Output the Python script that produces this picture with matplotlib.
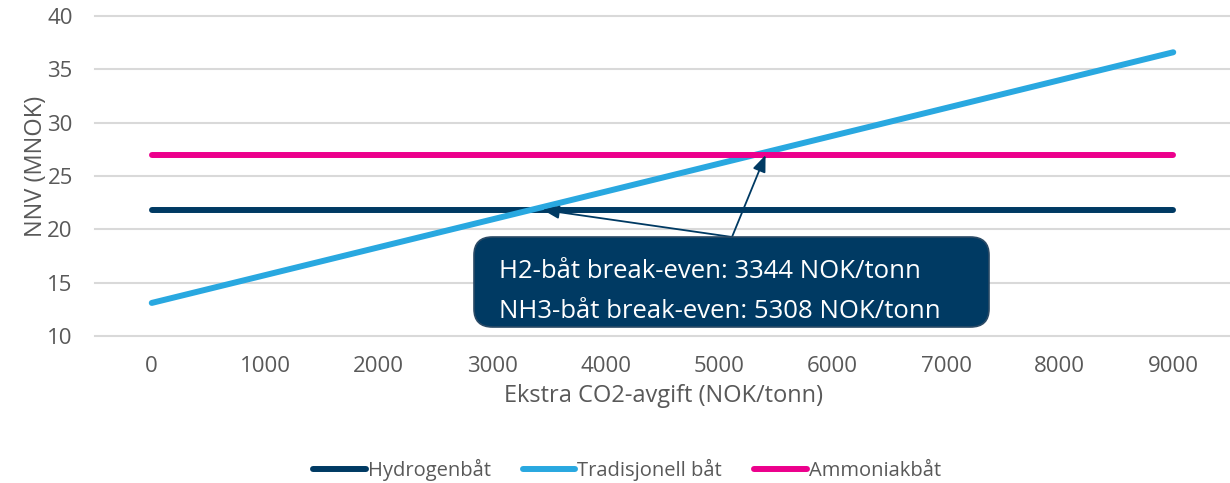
import matplotlib.pyplot as plt
from matplotlib.patches import FancyBboxPatch

# data
avgift = [0, 1000, 2000, 3000, 4000, 5000, 6000, 7000, 8000, 9000]
hydrogen = [21.83] * 10
tradisjonell = [13.1, 15.71, 18.32, 20.93, 23.54, 26.16, 28.77, 31.38, 33.99, 36.6]
ammoniak = [26.96] * 10
break_h2 = 3344
break_nh3 = 5308

NAVY = '#003A63'
BLUE = '#29A8E0'
PINK = '#EC008C'
GREY = '#595959'

plt.rcParams['font.family'] = ['Open Sans', 'DejaVu Sans']

fig = plt.figure(figsize=(12.3, 4.83), dpi=100)
ax = fig.add_axes([95 / 1230, 1 - 336 / 483, 1 - 95 / 1230, 320 / 483])

xs = list(range(len(avgift)))
ax.plot(xs, hydrogen, color=NAVY, lw=4.3, solid_capstyle='round', label='Hydrogenbåt')
ax.plot(xs, tradisjonell, color=BLUE, lw=4.3, solid_capstyle='round', label='Tradisjonell båt')
ax.plot(xs, ammoniak, color=PINK, lw=4.3, solid_capstyle='round', label='Ammoniakbåt')

ax.set_xlim(-0.5, len(avgift) - 0.5)
ax.set_ylim(10, 40)
ax.set_yticks(range(10, 41, 5))
ax.set_xticks(xs)
ax.set_xticklabels([str(v) for v in avgift])
ax.tick_params(length=0, labelsize=16, labelcolor=GREY)
ax.tick_params(axis='y', pad=16)
ax.tick_params(axis='x', pad=14.5)
ax.grid(axis='y', color='#D9D9D9', lw=1.5)
ax.set_axisbelow(True)
for s in ax.spines.values():
    s.set_visible(False)
for gl in ax.get_ygridlines():
    gl.set_clip_on(False)

# annotation box with arrows to the break-even points
tail = (732, 237)
def to_data(px, py):
    return ax.transData.inverted().transform(fig.transFigure.transform((px / 1230, 1 - py / 483)))

tail_xy = to_data(*tail)
for bx, by in [(break_h2, hydrogen[0]), (break_nh3, ammoniak[0])]:
    ax.annotate('', xy=(bx / 1000 + 0.1, by), xytext=tail_xy,
                arrowprops=dict(arrowstyle='-|>,head_length=1.0,head_width=0.4',
                                color=NAVY, lw=1.3, shrinkA=0, shrinkB=0))

box = FancyBboxPatch((474 / 1230, 1 - 327 / 483), (989 - 474) / 1230, 90 / 483,
                     boxstyle='round,pad=0,rounding_size=0.015', transform=fig.transFigure,
                     facecolor=NAVY, edgecolor='#2A4A66', lw=1.2, mutation_aspect=2.5)
fig.patches.append(box)
fig.text(499 / 1230, 1 - 278 / 483, f'H2-båt break-even: {break_h2} NOK/tonn',
         color='white', fontsize=18.5, va='baseline')
fig.text(499 / 1230, 1 - 318 / 483, f'NH3-båt break-even: {break_nh3} NOK/tonn',
         color='white', fontsize=18.5, va='baseline')

fig.text(664 / 1230, 1 - 402 / 483, 'Ekstra CO2-avgift (NOK/tonn)', ha='center', va='baseline',
         fontsize=17, color=GREY)
fig.text(36 / 1230, 1 - 166 / 483, 'NNV (MNOK)', ha='center', va='center', rotation=90,
         fontsize=17, color=GREY)

fig.legend(loc='center', bbox_to_anchor=(627 / 1230, 1 - 470 / 483), ncol=3, frameon=False,
           fontsize=14.5, labelcolor=GREY, handlelength=2.6, handletextpad=0.1, columnspacing=1.6)

fig.savefig('out.png', dpi=100)
